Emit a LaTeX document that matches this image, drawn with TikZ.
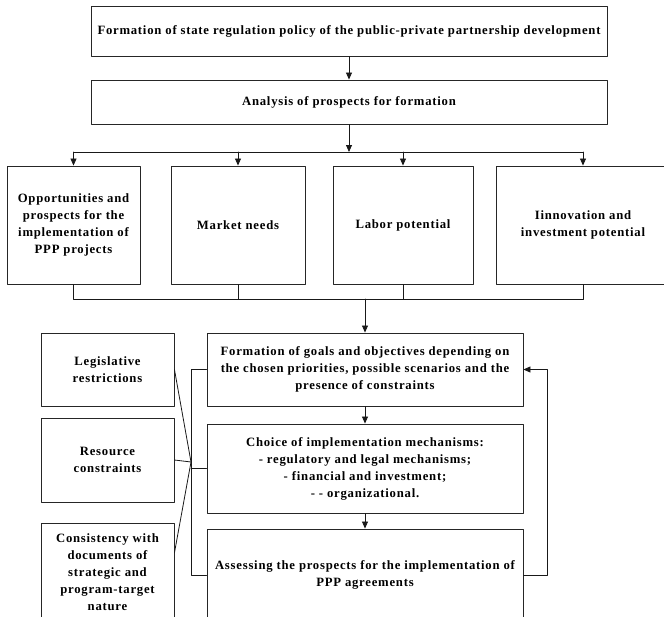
\documentclass[tikz,border=0pt]{standalone}
\usepackage{fontspec}
\setmainfont{Liberation Serif}[LetterSpace=6]
\usepackage{tikz}
\usetikzlibrary{arrows.meta}

\begin{document}
\begin{tikzpicture}[line cap=round,line join=round,>={Triangle[length=7pt,width=6pt]},x=1pt,y=-1pt,
  box/.style={draw=black!85, line width=0.9pt, align=center, inner sep=1pt,
    font=\bfseries\fontsize{12.7}{17}\selectfont},
  link/.style={draw=black!90, line width=0.8pt}]
\useasboundingbox (0,0) rectangle (664,616);
\clip (0,0) rectangle (664,616);
% upper part
\node[box, minimum width=516pt, minimum height=50pt] (policy) at (349,31) {Formation of state regulation policy of the public-private partnership development};
\node[box, minimum width=516pt, minimum height=44pt] (analysis) at (349,102) {Analysis of prospects for formation};
\node[box, minimum width=133pt, minimum height=118pt] (opport) at (73.5,225) {Opportunities and\\prospects for the\\implementation of\\PPP projects};
\node[box, minimum width=134pt, minimum height=118pt] (market) at (238,225) {Market needs};
\node[box, minimum width=140pt, minimum height=118pt] (labor) at (403,225) {Labor potential};
\node[box, minimum width=174pt, minimum height=118pt] (innov) at (583,225) {Iinnovation and\\investment potential};
\coordinate (topbus) at (349,152);
\coordinate (botbus) at (365,299);
% lower part
\node[box, minimum width=316pt, minimum height=73pt] (goals) at (365,369.5) {Formation of goals and objectives depending on\\the chosen priorities, possible scenarios and the\\presence of constraints};
\node[box, minimum width=316pt, minimum height=89pt] (choice) at (365,468.5) {Choice of implementation mechanisms:\\- regulatory and legal mechanisms;\\- financial and investment;\\- - organizational.};
\node[box, minimum width=316pt, minimum height=92pt] (assess) at (365,575) {Assessing the prospects for the implementation of\\PPP agreements};
\node[box, minimum width=133pt, minimum height=73pt] (legis) at (107.5,369.5) {Legislative\\restrictions};
\node[box, minimum width=133pt, minimum height=84pt] (resource) at (107.5,460) {Resource\\constraints};
\node[box, minimum width=133pt, minimum height=98pt] (consist) at (107.5,572) {Consistency with\\documents of\\strategic and\\program-target\\nature};
\coordinate (join) at (191,462);
% connectors
\draw[link,->] (policy) -- (analysis);
\draw[link,->] (analysis) -- (topbus);
\draw[link] (opport.north |- topbus) -- (innov.north |- topbus);
\foreach \n in {opport,market,labor,innov}
  \draw[link,->] (\n.north |- topbus) -- (\n.north);
\draw[link] (opport.south) -- (opport.south |- botbus) -- (innov.south |- botbus) -- (innov.south);
\draw[link] (market.south) -- (market.south |- botbus);
\draw[link] (labor.south) -- (labor.south |- botbus);
\draw[link,->] (botbus) -- (goals);
\draw[link,->] (goals) -- (choice);
\draw[link,->] (choice) -- (assess);
\draw[link,->] (assess.east) -- ++(24,0) |- (goals.east);
\draw[link] (goals.west) -- (goals.west -| join) -- (assess.west -| join) -- (assess.west);
\draw[link] (choice.west -| join) -- (choice.west);
\draw[link] (legis.east) -- (join);
\draw[link] (resource.east) -- (join);
\draw[link] (consist.16) -- (join);
\end{tikzpicture}
\end{document}
